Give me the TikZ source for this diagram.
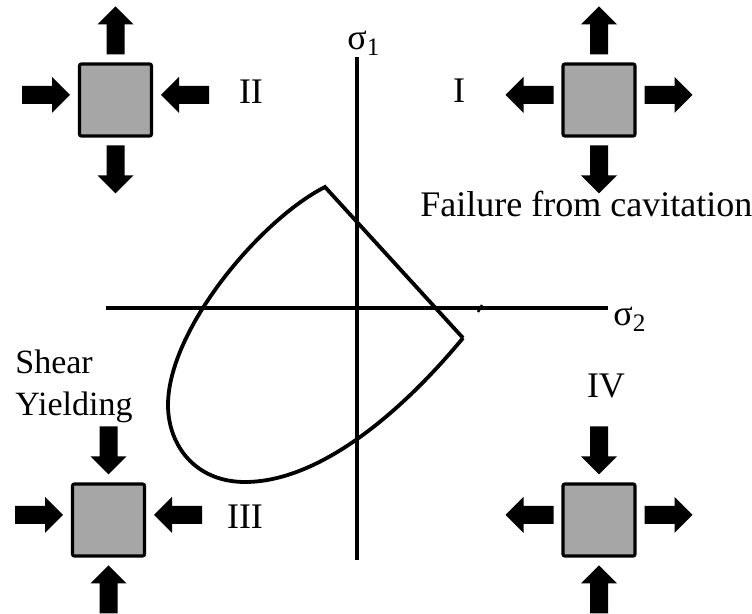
\documentclass[tikz,border=0pt]{standalone}
\usepackage{fontspec}
\setmainfont{Liberation Serif}
\begin{document}
\begin{tikzpicture}[x=0.5pt,y=-0.5pt,
  sq/.style={draw=black,line width=1.6pt,fill={rgb,255:red,166;green,166;blue,166},
    minimum width=36pt,minimum height=36pt,inner sep=0pt,outer sep=0pt,rounded corners=1pt},
  barrow/.pic={\fill[black] (0,-9) -- (30,-9) -- (30,-18) -- (48,0) -- (30,18) -- (30,9) -- (0,9) -- cycle;},
  lbl/.style={inner sep=0pt,font=\fontsize{18pt}{21pt}\selectfont},
  lbls/.style={inner sep=0pt,font=\fontsize{17pt}{20pt}\selectfont},
  axis/.style={line width=2pt,line cap=butt},
  curve/.style={line width=1.9pt,line join=miter}]
\useasboundingbox (0,0) rectangle (752,614);
% axes
\coordinate (ytop) at (357,57);
\coordinate (ybot) at (357,560);
\coordinate (xl) at (106,308);
\coordinate (xr) at (608,308);
\draw[axis] (ytop) -- (ybot);
\draw[axis] (xl) -- (xr);
\coordinate (m1) at (478,312);
\coordinate (m2) at (482,305);
\draw[line width=1.2pt] (m1) -- (m2);
\node[lbl,anchor=base west] (s1) at (347,50) {σ\textsubscript{1}};
\node[lbl,anchor=base west] (s2) at (613,326) {σ\textsubscript{2}};
% failure envelope
\coordinate (A) at (325,187);
\coordinate (B) at (463,338);
\coordinate (Cb) at (245,482);
\coordinate (Cl) at (168,405);
\draw[curve] (B) .. controls (395,420) and (315,482) .. (Cb)
  .. controls (195,482) and (168,445) .. (Cl)
  .. controls (168,330) and (260,220) .. (A) -- (B);
% squares
\node[sq] (q2) at (115.5,100) {};
\node[sq] (q1) at (599,100) {};
\node[sq] (q3) at (108.5,520) {};
\node[sq] (q4) at (599,520) {};
% II
\pic[rotate=90] at (115.5,54.5) {barrow};
\pic[rotate=-90] at (115.5,145.5) {barrow};
\pic at (22,95) {barrow};
\pic[rotate=180] at (209,95) {barrow};
% I
\pic[rotate=90] at (599,54.5) {barrow};
\pic[rotate=-90] at (599,145.5) {barrow};
\pic[rotate=180] at (553.5,95) {barrow};
\pic at (644.5,95) {barrow};
% III
\pic[rotate=-90] at (108.5,426.5) {barrow};
\pic[rotate=90] at (108.5,613.5) {barrow};
\pic at (15,515) {barrow};
\pic[rotate=180] at (202,515) {barrow};
% IV
\pic[rotate=-90] at (599,426.5) {barrow};
\pic[rotate=90] at (599,613.5) {barrow};
\pic[rotate=180] at (553.5,515) {barrow};
\pic at (644.5,515) {barrow};
% labels
\node[lbl,anchor=base] (l2) at (251,104) {II};
\node[lbl,anchor=base] (l1) at (459,103) {I};
\node[lbl,anchor=base] (l3) at (245,529) {III};
\node[lbl,anchor=base] (l4) at (606,398) {IV};
\node[lbl,anchor=base west] (fc) at (420,217) {Failure from cavitation};
\node[lbls,anchor=base west] (sh) at (15,374) {Shear};
\node[lbls,anchor=base west] (yi) at (15,416) {Yielding};
\end{tikzpicture}
\end{document}
